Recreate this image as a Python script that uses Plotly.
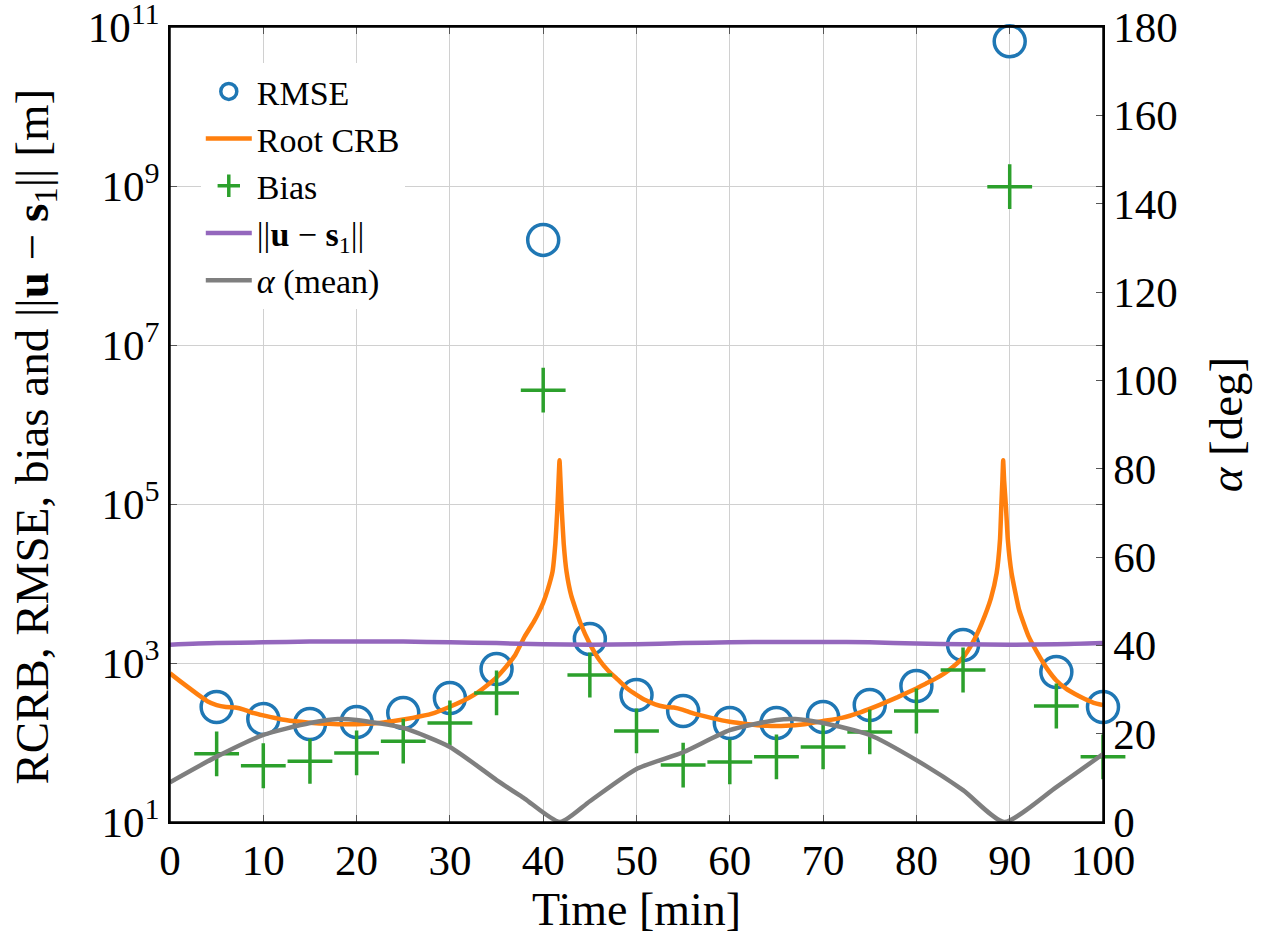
import plotly.graph_objects as go

# ---------------- data ----------------
t_samples = [5, 10, 15, 20, 25, 30, 35, 40, 45, 50, 55, 60, 65, 70, 75, 80, 85, 90, 95, 100]
rmse = [280, 198, 171, 181, 235, 363, 841, 2.1e8, 2005, 395, 249, 176, 176, 209, 296, 514, 1683, 6.6e10, 771, 280]
bias = [72, 51, 58, 74, 104, 176, 420, 2.7e6, 706, 140, 52, 57, 66, 88, 136, 249, 817, 9.8e8, 288, 66]

t_crb = [0, 1, 2, 3, 4, 5, 6, 7, 8, 9, 10, 12, 14, 16, 18, 20, 22, 24, 26, 28, 30, 32, 33, 34, 35, 36,
         37, 38, 39, 39.5, 40, 40.5, 41, 41.3, 41.5, 41.65, 41.75, 41.85, 42.0, 42.2, 42.5, 43, 44, 45, 46,
         47, 48, 49, 50, 51, 52, 53, 54, 55, 56, 58, 60, 62, 64, 66, 68, 70, 72, 74, 76, 78, 80, 81,
         82, 83, 84, 85, 86, 87, 88, 88.6, 88.96, 89.1, 89.22, 89.3, 89.4, 89.6, 89.8, 90.2, 91, 92,
         93, 94, 95, 96, 97, 98, 99, 100]
root_crb = [740, 600, 490, 400, 330, 295, 280, 275, 257, 234, 219, 195, 182, 174, 170, 170, 174, 186,
            204, 229, 282, 363, 427, 525, 661, 891, 1260, 2140, 3310, 4270, 5750, 8510, 14100, 31600,
            79400, 200000, 355000, 200000, 79400, 31600, 14100, 7080, 3160, 1740, 1100, 794, 617, 479,
            398, 339, 302, 282, 275, 257, 234, 204, 182, 170, 162, 162, 170, 186, 204, 240, 295, 372,
            479, 550, 631, 741, 912, 1175, 1780, 3160, 6610, 13500, 35500, 91200, 200000, 355000,
            200000, 91200, 35500, 13500, 4680, 2190, 1320, 850, 603, 479, 407, 355, 316, 295]

t_dist = [0, 5, 10, 15, 20, 25, 30, 35, 40, 45, 50, 55, 60, 65, 70, 75, 80, 85, 90, 95, 100]
dist_us1 = [1700, 1780, 1820, 1860, 1860, 1860, 1820, 1780, 1720, 1700, 1720, 1780, 1820, 1840,
            1840, 1820, 1760, 1720, 1700, 1720, 1780]

t_alpha = [0, 5, 10, 15, 18, 20, 25, 30, 35, 38, 41.8, 45, 50, 55, 60, 65, 67, 70, 75, 80, 85, 89.4, 95, 100]
alpha_mean = [9.0, 14.8, 19.7, 22.4, 23.3, 23.1, 21.3, 17.0, 9.5, 5.3, 0, 4.7, 12.0, 15.8, 20.8, 23.1,
              23.3, 22.4, 19.7, 14.0, 7.2, 0, 7.9, 15.4]

x_ticks = [0, 10, 20, 30, 40, 50, 60, 70, 80, 90, 100]
y_tickvals = [1e1, 1e3, 1e5, 1e7, 1e9, 1e11]
y_ticktext = ["10<sup>1</sup>", "10<sup>3</sup>", "10<sup>5</sup>", "10<sup>7</sup>", "10<sup>9</sup>", "10<sup>11</sup>"]
alpha_ticks = [0, 20, 40, 60, 80, 100, 120, 140, 160, 180]

# ---------------- styles ----------------
FONT = "'Liberation Serif', 'Times New Roman', serif"
C_BLUE = "#1f77b4"
C_ORANGE = "#ff7f0e"
C_GREEN = "#2ca02c"
C_PURPLE = "#9467bd"
C_GRAY = "#7f7f7f"

fig = go.Figure()

fig.add_trace(go.Scatter(
    x=t_samples, y=rmse, mode="markers", name="RMSE",
    marker=dict(symbol="circle-open", size=31, color=C_BLUE, line=dict(width=3.5, color=C_BLUE)),
    cliponaxis=False,
))
fig.add_trace(go.Scatter(
    x=t_crb, y=root_crb, mode="lines", name="Root CRB",
    line=dict(color=C_ORANGE, width=4.5, shape="spline", smoothing=0.4),
))
fig.add_trace(go.Scatter(
    x=t_samples, y=bias, mode="markers", name="Bias",
    marker=dict(symbol="cross-thin-open", size=32, color=C_GREEN, line=dict(width=3.5, color=C_GREEN)),
    cliponaxis=False,
))
fig.add_trace(go.Scatter(
    x=t_dist, y=dist_us1, mode="lines", name="||<b>u</b> − <b>s</b><sub>1</sub>||",
    line=dict(color=C_PURPLE, width=4.5, shape="spline", smoothing=0.8),
))
fig.add_trace(go.Scatter(
    x=t_alpha, y=alpha_mean, mode="lines", name="<i>α</i> (mean)", yaxis="y2",
    line=dict(color=C_GRAY, width=4.5, shape="spline", smoothing=0.6),
))

axis_common = dict(
    showline=True, linecolor="black", linewidth=1.5,
    ticks="inside", ticklen=7, tickcolor="#555", tickwidth=1,
    zeroline=False, automargin=False, ticklabeloverflow="allow",
    tickfont=dict(family=FONT, size=43, color="black"),
)

fig.update_layout(
    width=1272, height=937,
    margin=dict(l=170, r=169, t=27, b=115),
    paper_bgcolor="white", plot_bgcolor="white",
    font=dict(family=FONT, color="black"),
    showlegend=True,
    legend=dict(
        x=0.033, y=0.955, xanchor="left", yanchor="top",
        bgcolor="white", borderwidth=0,
        font=dict(family=FONT, size=34, color="black"),
        itemwidth=46, tracegroupgap=0,
    ),
    xaxis=dict(
        range=[0, 100], tickvals=x_ticks, mirror="ticks",
        showgrid=True, gridcolor="#d0d0d0", gridwidth=1,
        title=dict(text="Time [min]", font=dict(family=FONT, size=46), standoff=4),
        **axis_common,
    ),
    yaxis=dict(
        type="log", range=[1, 11], tickvals=y_tickvals, ticktext=y_ticktext, mirror="ticks",
        showgrid=True, gridcolor="#d0d0d0", gridwidth=1,
        **axis_common,
    ),
    yaxis2=dict(
        overlaying="y", side="right", range=[0, 180], tickvals=alpha_ticks,
        showgrid=False,
        title=dict(text="<i>α</i> [deg]", font=dict(family=FONT, size=47), standoff=32),
        **axis_common,
    ),
    annotations=[dict(
        text="RCRB, RMSE, bias and ||<b>u</b> − <b>s</b><sub>1</sub>|| [m]",
        xref="paper", yref="paper", x=0, y=0.5, xanchor="center", yanchor="middle",
        xshift=-135, yshift=-12, textangle=-90, showarrow=False,
        font=dict(family=FONT, size=47, color="black"),
    )],
    shapes=[dict(
        type="rect", xref="paper", yref="paper", x0=0, y0=0, x1=1, y1=1,
        line=dict(color="black", width=1.5), fillcolor="rgba(0,0,0,0)", layer="above",
    )],
)

fig.write_html("out.html")
